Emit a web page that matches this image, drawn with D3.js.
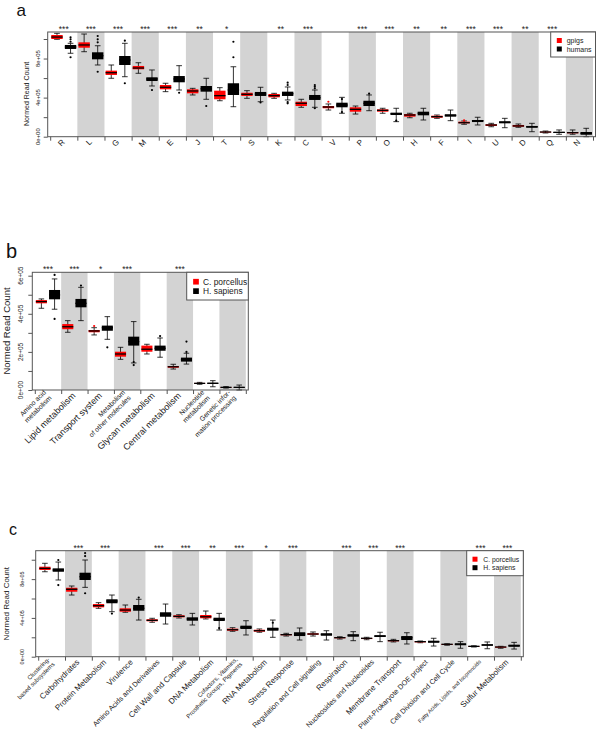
<!DOCTYPE html>
<html>
<head>
<meta charset="utf-8">
<script src="https://cdn.jsdelivr.net/npm/d3@7"></script>
<style>
  body { margin: 0; background: #fff; }
  svg { display: block; }
</style>
</head>
<body>
<script>
// ---------- panel a : amino acids ----------
const aCats = ["R","L","G","M","E","J","T","S","K","C","V","P","O","H","F","I","U","D","Q","N"];
const aStars = ["***","***","***","***","***","**","*","","**","***","","***","***","**","**","***","***","**","***",""];
// [lower whisker, q1, median, q3, upper whisker]
const aRed = [
  [9.97e5,10.0e5,10.2e5,10.41e5,10.58e5],[8.70e5,9.11e5,9.39e5,9.66e5,10.51e5],
  [5.98e5,6.32e5,6.55e5,6.76e5,7.34e5],[6.49e5,6.90e5,7.03e5,7.24e5,7.57e5],
  [4.61e5,4.85e5,5.06e5,5.29e5,5.47e5],[4.27e5,4.44e5,4.68e5,4.85e5,4.95e5],
  [3.68e5,3.83e5,4.20e5,4.71e5,5.02e5],[3.93e5,4.17e5,4.34e5,4.50e5,4.71e5],
  [3.93e5,4.03e5,4.20e5,4.37e5,4.44e5],[3.01e5,3.14e5,3.42e5,3.58e5,3.83e5],
  [2.73e5,2.91e5,3.04e5,3.14e5,3.35e5],[2.32e5,2.56e5,2.80e5,3.01e5,3.14e5],
  [2.40e5,2.56e5,2.70e5,2.80e5,2.91e5],[1.94e5,2.05e5,2.22e5,2.32e5,2.40e5],
  [1.88e5,1.94e5,2.05e5,2.15e5,2.22e5],[1.27e5,1.37e5,1.43e5,1.54e5,1.61e5],
  [1.02e5,1.10e5,1.20e5,1.27e5,1.37e5],[0.96e5,1.02e5,1.10e5,1.20e5,1.30e5],
  [0.38e5,0.45e5,0.48e5,0.51e5,0.58e5],[0.25e5,0.35e5,0.41e5,0.48e5,0.69e5]
];
const aRedOut = [[],[],[],[],[],[],[],[],[],[],[3.58e5],[],[],[],[],[1.68e5],[],[],[],[]];
const aBlack = [
  [8.54e5,8.98e5,9.18e5,9.39e5,9.56e5],[7.34e5,7.92e5,8.29e5,8.64e5,9.31e5],
  [6.14e5,7.34e5,7.85e5,8.26e5,9.56e5],[5.19e5,5.70e5,5.91e5,6.08e5,6.83e5],
  [4.78e5,5.57e5,5.91e5,6.21e5,7.27e5],[3.83e5,4.61e5,4.91e5,5.19e5,5.98e5],
  [3.07e5,4.27e5,4.78e5,5.47e5,7.16e5],[3.58e5,4.17e5,4.37e5,4.58e5,5.06e5],
  [3.76e5,4.17e5,4.40e5,4.61e5,5.09e5],[3.01e5,3.76e5,3.99e5,4.27e5,4.78e5],
  [2.40e5,3.01e5,3.24e5,3.48e5,4.03e5],[2.66e5,3.14e5,3.42e5,3.68e5,4.27e5],
  [1.54e5,2.22e5,2.35e5,2.46e5,2.91e5],[1.71e5,2.19e5,2.40e5,2.56e5,2.91e5],
  [1.64e5,2.05e5,2.19e5,2.29e5,2.73e5],[1.20e5,1.50e5,1.64e5,1.71e5,1.99e5],
  [0.92e5,1.37e5,1.47e5,1.58e5,1.88e5],[0.51e5,0.92e5,1.02e5,1.10e5,1.37e5],
  [0.25e5,0.38e5,0.45e5,0.48e5,0.69e5],[0.0,0.20e5,0.35e5,0.48e5,0.86e5]
];
const aBlackOut = [[10.17e5,9.97e5,9.72e5,8.13e5],[10.31e5,9.97e5,9.66e5,6.65e5],[9.83e5,5.47e5],[4.78e5],[4.50e5],
  [3.14e5],[9.72e5,8.13e5],[3.50e5],[5.53e5,5.29e5,3.42e5,3.55e5],[5.29e5,5.13e5,4.95e5,2.91e5],
  [3.85e5,2.52e5],[4.40e5],[1.65e5],[],[],[],[],[],[],[]];
const aTicks = [0,2e5,4e5,6e5,8e5,10e5];
const aLabelTicks = [0,4e5,8e5];
const aTickLabels = ["0e+00","4e+05","8e+05"];
const aLegend = ["gpigs","humans"];

// ---------- panel b : metabolism groups ----------
const bCats = ["Amino acid\nmetabolism","Lipid metabolism","Transport system","Metabolism\nof other molecules",
  "Glycan metabolism","Central metabolism","Nucleotide\nmetabolism","Genetic infor-\nmation processing"];
const bStars = ["***","***","*","***","","***","",""];
const bRed = [
  [4.29e5,4.55e5,4.64e5,4.72e5,4.78e5],[3.03e5,3.19e5,3.32e5,3.46e5,3.64e5],
  [2.89e5,3.03e5,3.10e5,3.15e5,3.27e5],[1.61e5,1.75e5,1.89e5,2.01e5,2.24e5],
  [1.89e5,2.01e5,2.14e5,2.33e5,2.40e5],[1.10e5,1.17e5,1.22e5,1.26e5,1.35e5],
  [0.30e5,0.33e5,0.35e5,0.37e5,0.40e5],[0.10e5,0.13e5,0.14e5,0.15e5,0.18e5]
];
const bRedOut = [[],[],[3.36e5],[],[],[],[],[]];
const bBlack = [
  [4.24e5,4.76e5,4.99e5,5.25e5,5.83e5],[3.64e5,4.34e5,4.55e5,4.78e5,5.39e5],
  [2.66e5,3.11e5,3.27e5,3.38e5,3.85e5],[1.42e5,2.33e5,2.54e5,2.80e5,3.59e5],
  [1.72e5,2.06e5,2.19e5,2.33e5,2.73e5],[1.36e5,1.49e5,1.61e5,1.70e5,1.93e5],
  [0.17e5,0.33e5,0.35e5,0.38e5,0.49e5],[0.0,0.12e5,0.14e5,0.16e5,0.26e5]
];
const bBlackOut = [[6.04e5,3.73e5],[5.48e5],[2.24e5],[1.31e5,1.47e5],[2.83e5],[2.54e5,2.00e5],[],[]];
const bTicks = [0,1e5,2e5,3e5,4e5,5e5,6e5];
const bLabelTicks = [0,2e5,4e5,6e5];
const bTickLabels = ["0e+00","2e+05","4e+05","6e+05"];
const bLegend = ["C. porcellus","H. sapiens"];

// ---------- panel c : SEED subsystems ----------
const cCats = ["Clustering-\nbased subsystems","Carbohydrates","Protein Metabolism","Virulence",
  "Amino Acids and Derivatives","Cell Wall and Capsule","DNA Metabolism",
  "Cofactors, Vitamins,\nProsthetic Groups, Pigments","RNA Metabolism","Stress Response",
  "Regulation and Cell signaling","Respiration","Nucleosides and Nucleotides","Membrane Transport",
  "Plant-Prokaryote DOE project","Cell Division and Cell Cycle","Fatty Acids, Lipids, and Isoprenoids",
  "Sulfur Metabolism"];
const cStars = ["","***","***","","***","***","**","***","*","***","","***","***","***","","","***","***"];
const cRed = [
  [8.76e5,8.94e5,9.11e5,9.28e5,9.63e5],[6.36e5,6.70e5,6.95e5,7.11e5,7.29e5],
  [4.99e5,5.09e5,5.26e5,5.43e5,5.57e5],[4.58e5,4.64e5,4.81e5,4.99e5,5.33e5],
  [3.55e5,3.65e5,3.75e5,3.86e5,3.96e5],[3.99e5,4.06e5,4.16e5,4.27e5,4.33e5],
  [3.89e5,3.96e5,4.12e5,4.30e5,4.71e5],[2.62e5,2.68e5,2.78e5,2.89e5,2.99e5],
  [2.52e5,2.58e5,2.68e5,2.78e5,2.86e5],[2.13e5,2.21e5,2.27e5,2.34e5,2.41e5],
  [2.13e5,2.27e5,2.34e5,2.41e5,2.55e5],[1.82e5,1.90e5,1.96e5,2.00e5,2.06e5],
  [1.75e5,1.82e5,1.90e5,1.93e5,2.00e5],[1.52e5,1.59e5,1.65e5,1.72e5,1.79e5],
  [1.44e5,1.48e5,1.55e5,1.59e5,1.62e5],[1.18e5,1.21e5,1.28e5,1.31e5,1.34e5],
  [1.00e5,1.03e5,1.07e5,1.10e5,1.13e5],[0.87e5,0.93e5,1.00e5,1.03e5,1.07e5]
];
const cRedOut = [[],[],[],[],[],[],[],[],[],[],[],[],[],[],[],[],[],[]];
const cBlack = [
  [7.91e5,8.76e5,8.94e5,9.11e5,9.76e5],[7.15e5,7.91e5,8.25e5,8.66e5,9.97e5],
  [4.64e5,5.51e5,5.74e5,5.92e5,6.36e5],[3.78e5,4.74e5,4.99e5,5.33e5,5.92e5],
  [3.37e5,4.12e5,4.37e5,4.58e5,5.43e5],[3.27e5,3.71e5,3.89e5,4.06e5,4.47e5],
  [2.75e5,3.68e5,3.86e5,4.02e5,4.47e5],[2.24e5,2.86e5,3.03e5,3.20e5,3.71e5],
  [2.00e5,2.68e5,2.86e5,2.99e5,3.78e5],[1.72e5,2.13e5,2.34e5,2.52e5,2.96e5],
  [1.72e5,2.16e5,2.31e5,2.41e5,2.68e5],[1.65e5,2.06e5,2.21e5,2.31e5,2.58e5],
  [1.55e5,2.03e5,2.13e5,2.21e5,2.52e5],[1.31e5,1.72e5,1.96e5,2.13e5,2.47e5],
  [1.10e5,1.44e5,1.55e5,1.65e5,1.90e5],[0.87e5,1.18e5,1.28e5,1.38e5,1.55e5],
  [0.82e5,1.13e5,1.21e5,1.28e5,1.52e5],[0.79e5,1.03e5,1.13e5,1.24e5,1.48e5]
];
const cBlackOut = [[9.97e5,7.39e5],[10.69e5,10.38e5,6.54e5],[4.45e5],[6.10e5],[],[],[2.95e5],[],[3.50e5],
  [],[],[],[],[],[],[],[],[]];
const cTicks = [0,2e5,4e5,6e5,8e5,10e5];
const cLabelTicks = [0,4e5,8e5];
const cTickLabels = ["0e+00","4e+05","8e+05"];
const cLegend = ["C. porcellus","H. sapiens"];

const FONT = "'Liberation Sans', Arial, Helvetica, sans-serif";
const W = 600, H = 736;

const svg = d3.select("body").append("svg")
  .attr("width", W).attr("height", H)
  .style("font-family", FONT);

function drawPanel(p) {
  const g = svg.append("g");
  const n = p.cats.length;
  const y = d3.scaleLinear().domain([0, p.yMax]).range([p.bottom, p.top]);
  const x = d3.scaleBand().domain(d3.range(n)).range([p.left + 2.5, p.right - 2.5]);
  const bw = x.bandwidth();
  const edge = d3.scaleLinear().domain([0, n]).range([p.left + 2.5, p.right - 2.5]);

  // alternating grey stripes
  g.selectAll(".stripe").data(d3.range(n).filter(i => i % 2 === 1)).join("rect")
    .attr("x", i => x(i)).attr("y", p.top)
    .attr("width", bw).attr("height", p.bottom - p.top)
    .attr("fill", "#d3d3d3");

  // boxplots
  const series = [
    {data: p.red, out: p.redOut, color: "#ff0000", off: 0.25},
    {data: p.black, out: p.blackOut, color: "#000000", off: 0.75}
  ];
  const w = bw * 0.42;
  series.forEach(s => {
    const items = s.data.map((d, i) => ({d, i, cx: x(i) + s.off * bw}));
    const gg = g.append("g");
    gg.selectAll(".whisker").data(items).join("line")
      .attr("x1", o => o.cx).attr("x2", o => o.cx)
      .attr("y1", o => y(o.d[0])).attr("y2", o => y(o.d[4]))
      .attr("stroke", "#000").attr("stroke-width", 0.8);
    [0, 4].forEach(k => {
      gg.selectAll(".staple" + k).data(items).join("line")
        .attr("x1", o => o.cx - w / 4).attr("x2", o => o.cx + w / 4)
        .attr("y1", o => y(o.d[k])).attr("y2", o => y(o.d[k]))
        .attr("stroke", "#000").attr("stroke-width", 0.8);
    });
    gg.selectAll(".box").data(items).join("rect")
      .attr("x", o => o.cx - w / 2).attr("width", w)
      .attr("y", o => y(o.d[3]))
      .attr("height", o => Math.max(0.8, y(o.d[1]) - y(o.d[3])))
      .attr("fill", s.color);
    gg.selectAll(".median").data(items).join("line")
      .attr("x1", o => o.cx - w / 2).attr("x2", o => o.cx + w / 2)
      .attr("y1", o => y(o.d[2])).attr("y2", o => y(o.d[2]))
      .attr("stroke", "#000").attr("stroke-width", 1.3);
    const pts = [];
    s.out.forEach((arr, i) => arr.forEach(v => pts.push({cx: x(i) + s.off * bw, v})));
    gg.selectAll(".out").data(pts).join("circle")
      .attr("cx", o => o.cx).attr("cy", o => y(o.v)).attr("r", 1.1)
      .attr("fill", s.color);
  });

  // frame
  g.append("rect")
    .attr("x", p.left).attr("y", p.top)
    .attr("width", p.right - p.left).attr("height", p.bottom - p.top)
    .attr("fill", "none").attr("stroke", "#555").attr("stroke-width", 1);

  // y axis ticks
  const ya = g.append("g").attr("transform", `translate(${p.left},0)`)
    .call(d3.axisLeft(y).tickValues(p.ticks).tickSize(4).tickFormat(""));
  ya.select(".domain").remove();
  ya.selectAll("line").attr("stroke", "#555");
  g.selectAll(".ylab").data(p.labelTicks).join("text")
    .attr("transform", v => `translate(${p.tickLabelX},${y(v)}) rotate(-90)`)
    .attr("text-anchor", "middle").attr("dominant-baseline", "central")
    .attr("font-size", p.tickFont).attr("fill", "#222")
    .text((v, i) => p.tickLabels[i]);

  // x axis ticks at stripe edges
  const xa = g.append("g").attr("transform", `translate(0,${p.bottom})`)
    .call(d3.axisBottom(edge).tickValues(d3.range(n + 1)).tickSize(4).tickFormat(""));
  xa.select(".domain").remove();
  xa.selectAll("line").attr("stroke", "#555");

  // rotated category labels
  p.cats.forEach((c, i) => {
    const lines = c.split("\n");
    const fs = p.catFont(c);
    const t = g.append("text")
      .attr("transform", `translate(${x(i) + bw / 2 - 0.5},${p.bottom + 4}) rotate(-45)`)
      .attr("text-anchor", "end").attr("font-size", fs).attr("fill", "#222");
    lines.forEach((ln, j) => {
      t.append("tspan").attr("x", 0)
        .attr("y", (j - (lines.length - 1) / 2) * fs * 1.15)
        .attr("dy", "0.35em").text(ln);
    });
  });

  // significance stars
  g.selectAll(".star").data(p.stars.map((s, i) => ({s, i}))).join("text")
    .attr("x", o => x(o.i) + bw / 2).attr("y", p.top - 0.2)
    .attr("text-anchor", "middle").attr("font-size", 8.5).attr("fill", "#222")
    .text(o => o.s);

  // y title
  g.append("text")
    .attr("transform", `translate(${p.titleX},${p.titleY}) rotate(-90)`)
    .attr("text-anchor", "middle").attr("dominant-baseline", "central")
    .attr("font-size", p.titleFont).attr("fill", "#222")
    .text("Normed Read Count");

  // legend
  const L = p.legend;
  g.append("rect").attr("x", L.x).attr("y", p.top).attr("width", p.right - L.x).attr("height", L.h)
    .attr("fill", "#fff").attr("stroke", "#555").attr("stroke-width", 1);
  const colors = ["#ff0000", "#000000"];
  p.legendNames.forEach((nm, k) => {
    const cy = p.top + L.h * (k === 0 ? 0.34 : 0.68);
    g.append("rect").attr("x", L.x + L.sq - L.s / 2).attr("y", cy - L.s / 2)
      .attr("width", L.s).attr("height", L.s).attr("fill", colors[k]);
    g.append("text").attr("x", L.x + L.tx).attr("y", cy)
      .attr("dominant-baseline", "central").attr("font-size", L.fs).attr("fill", "#222")
      .text(nm);
  });

  // panel letter
  svg.append("text").attr("x", p.letterX).attr("y", p.letterY)
    .attr("font-size", p.letterFont).attr("fill", "#111").text(p.letter);
}

drawPanel({
  letter: "a", letterX: 16.5, letterY: 16, letterFont: 17,
  left: 47.7, right: 595.5, top: 32, bottom: 136.7, yMax: 1.0717e6,
  cats: aCats, red: aRed, redOut: aRedOut, black: aBlack, blackOut: aBlackOut, stars: aStars,
  ticks: aTicks, labelTicks: aLabelTicks, tickLabels: aTickLabels, tickLabelX: 38, tickFont: 6,
  catFont: () => 8,
  titleX: 26.7, titleY: 94, titleFont: 7,
  legendNames: aLegend, legend: {x: 550.7, h: 25, sq: 8.6, s: 5, tx: 16, fs: 7}
});

drawPanel({
  letter: "b", letterX: 6, letterY: 258, letterFont: 20,
  left: 32.3, right: 248.3, top: 272.3, bottom: 390, yMax: 6.178e5,
  cats: bCats, red: bRed, redOut: bRedOut, black: bBlack, blackOut: bBlackOut, stars: bStars,
  ticks: bTicks, labelTicks: bLabelTicks, tickLabels: bTickLabels, tickLabelX: 20, tickFont: 6.5,
  catFont: c => c.includes("\n") ? 6.8 : 9,
  titleX: 6.7, titleY: 331, titleFont: 9.5,
  legendNames: bLegend, legend: {x: 186.7, h: 27.7, sq: 9.3, s: 5.7, tx: 16.3, fs: 8.4}
});

drawPanel({
  letter: "c", letterX: 9, letterY: 535, letterFont: 16,
  left: 35.7, right: 523.3, top: 550.7, bottom: 656.7, yMax: 1.093e6,
  cats: cCats, red: cRed, redOut: cRedOut, black: cBlack, blackOut: cBlackOut, stars: cStars,
  ticks: cTicks, labelTicks: cLabelTicks, tickLabels: cTickLabels, tickLabelX: 21.7, tickFont: 5.5,
  catFont: c => c.includes("\n") ? 6 : (c.length > 30 ? 5.5 : (c.length > 24 ? 7.2 : 8)),
  titleX: 6.7, titleY: 603.7, titleFont: 8,
  legendNames: cLegend, legend: {x: 466.7, h: 25, sq: 8.3, s: 5, tx: 16.6, fs: 6.8}
});
</script>
</body>
</html>
